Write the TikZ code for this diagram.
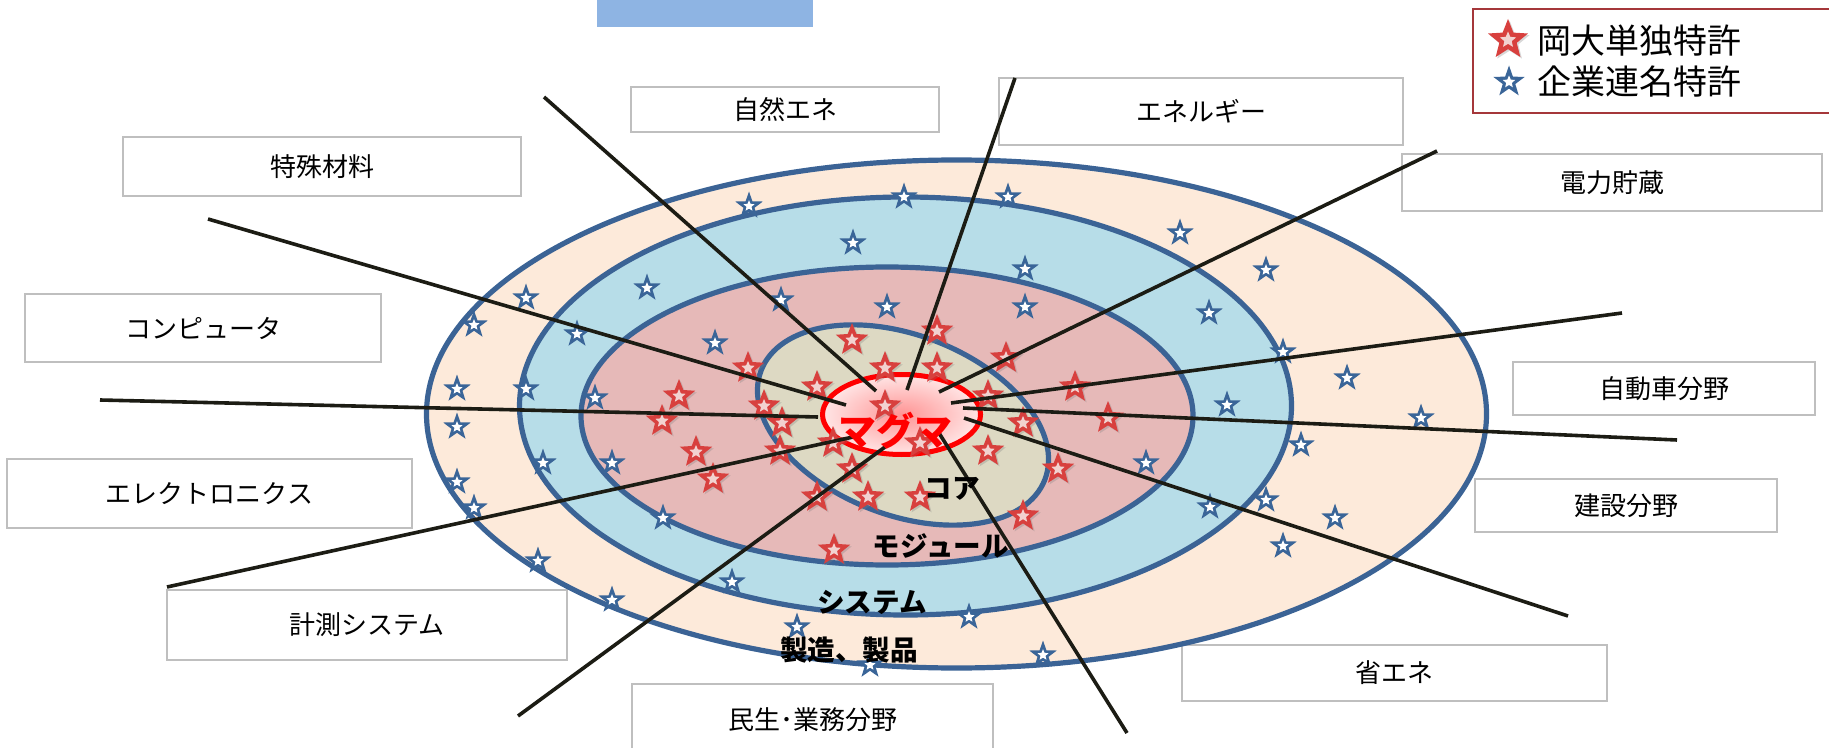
\documentclass[tikz,border=0pt]{standalone}
\usepackage{fontspec}
\newfontfamily\jp{Noto Sans CJK JP}
\usetikzlibrary{shapes.geometric,shadows}
\definecolor{ringline}{HTML}{3B6395}
\definecolor{peach}{HTML}{FDEADA}
\definecolor{bandblue}{HTML}{B7DDE8}
\definecolor{bandpink}{HTML}{E6B9B8}
\definecolor{coretan}{HTML}{DDD9C3}
\definecolor{magred}{HTML}{FF0000}
\definecolor{starblue}{HTML}{3A6598}
\definecolor{starred}{HTML}{D8403E}
\definecolor{starpink}{HTML}{F2D2D0}
\definecolor{boxgray}{HTML}{BFBFBF}
\definecolor{legred}{HTML}{A5373A}
\definecolor{barblue}{HTML}{8EB4E3}
\definecolor{spoke}{HTML}{1C1C14}
\tikzset{
  ring/.style={draw=ringline, line width=2.6pt},
  bstar/.style={star, star points=5, star point ratio=2.5, fill=starblue, draw=none, inner sep=0pt, minimum size=14.5pt},
  bstarin/.style={star, star points=5, star point ratio=2.2, fill=white, draw=none, inner sep=0pt, minimum size=5.8pt},
  rstar/.style={star, star points=5, star point ratio=2.3, fill=starred, draw=none, inner sep=0pt, minimum size=17pt,
    drop shadow={opacity=0.3, shadow xshift=0.8pt, shadow yshift=-0.8pt}},
  rstarin/.style={star, star points=5, star point ratio=2.2, fill=starpink, draw=none, inner sep=0pt, minimum size=7pt},
  fieldbox/.style={draw=boxgray, line width=1.3pt, fill=white, inner sep=0pt, font=\jp\fontsize{13pt}{15pt}\selectfont},
  ringlab/.style={inner sep=0pt, font=\jp\bfseries\fontsize{13.8pt}{16pt}\selectfont},
  spokeline/.style={draw=spoke, line width=1.8pt},
}
\begin{document}
\begin{tikzpicture}[x=0.5pt, y=-0.5pt]
\useasboundingbox (0,0) rectangle (1829,748);
% top bar
\fill[barblue] (597,0) rectangle (813,27);
% boxes
\node[fieldbox, minimum width=154pt, minimum height=22.5pt] (b1) at (785,109.5) {自然エネ};
\node[fieldbox, minimum width=202pt, minimum height=33.5pt] (b2) at (1201,111.5) {エネルギー};
\node[fieldbox, minimum width=199pt, minimum height=29.5pt] (b3) at (322,166.5) {特殊材料};
\node[fieldbox, minimum width=210pt, minimum height=28.5pt] (b4) at (1612,182.5) {電力貯蔵};
\node[fieldbox, minimum width=178pt, minimum height=34pt] (b5) at (203,328) {コンピュータ};
\node[fieldbox, minimum width=151pt, minimum height=26.5pt] (b6) at (1664,388.5) {自動車分野};
\node[fieldbox, minimum width=202.5pt, minimum height=34.5pt] (b7) at (209.5,493.5) {エレクトロニクス};
\node[fieldbox, minimum width=151pt, minimum height=26.5pt] (b8) at (1626,505.5) {建設分野};
\node[fieldbox, minimum width=200pt, minimum height=35pt] (b9) at (367,625) {計測システム};
\node[fieldbox, minimum width=212.5pt, minimum height=28pt] (b10) at (1394.5,673) {省エネ};
\node[fieldbox, minimum width=180.5pt, minimum height=36pt] (b11) at (812.5,720) {民生･業務分野};
% legend
\node[draw=legred, line width=1.3pt, fill=white, minimum width=183.5pt, minimum height=52pt, inner sep=0pt] (legend) at (1656.5,61) {};
\node[rstar, minimum size=21pt] (lr) at (1508,40) {};
\node[rstarin, minimum size=8.5pt] (lri) at (1508,40) {};
\node[bstar, minimum size=16.5pt] (lb) at (1509,82) {};
\node[bstarin, minimum size=6.5pt] (lbi) at (1509,82) {};
\node[anchor=west, inner sep=0pt, font=\jp\fontsize{17pt}{20pt}\selectfont] (lt1) at (1537,41) {岡大単独特許};
\node[anchor=west, inner sep=0pt, font=\jp\fontsize{17pt}{20pt}\selectfont] (lt2) at (1537,82) {企業連名特許};
% rings
\draw[ring, fill=peach] (956.5,414) ellipse [x radius=265pt, y radius=127pt];
\draw[ring, fill=bandblue] (905.5,406) ellipse [x radius=193pt, y radius=104.5pt];
\draw[ring, fill=bandpink] (887,416) ellipse [x radius=153pt, y radius=74.5pt];
\draw[ring, fill=coretan, rotate around={-21:(903,425)}] (903,425) ellipse [x radius=76pt, y radius=45pt];
\draw[draw=magred, line width=2.5pt, inner color=red!42, outer color=red!10] (901.5,414.5) ellipse [x radius=39.5pt, y radius=20pt];
% blue stars
\foreach \x/\y [count=\i] in {749/206, 904/197, 1008/197, 1180/233, 1266/270, 853/243, 647/288, 526/298, 474/325, 577/334, 715/343, 781/300, 887/307, 1025/269, 1025/307, 1209/313, 1283/352, 1347/378, 1227/405, 1421/418, 457/389, 526/389, 595/398, 457/427, 543/463, 612/463, 457/482, 474/508, 663/518, 538/561, 612/600, 732/582, 797/627, 969/617, 1043/655, 870/665, 1301/445, 1146/463, 1210/507, 1266/500, 1335/518, 1283/546}{
  \node[bstar] (bs\i) at (\x,\y) {};
  \node[bstarin] (bsi\i) at (\x,\y) {};
}
% red stars
\foreach \x/\y [count=\i] in {852/340, 937/331, 748/368, 817/387, 885/368, 937/368, 1006/358, 679/396, 764/406, 782/423, 885/406, 988/396, 1075/387, 1108/418, 1023/423, 662/421, 696/452, 713/479, 780/451, 833/443, 920/443, 988/451, 852/469, 1058/469, 817/497, 868/497, 920/497, 1023/516, 834/550}{
  \node[rstar] (rs\i) at (\x,\y) {};
  \node[rstarin] (rsi\i) at (\x,\y) {};
}
% spoke ends
\coordinate (o1) at (544,97);    \coordinate (i1) at (876,391);
\coordinate (o2) at (208,219);   \coordinate (i2) at (846,405);
\coordinate (o3) at (100,400);   \coordinate (i3) at (818,417);
\coordinate (o4) at (167,587);   \coordinate (i4) at (853,437);
\coordinate (o5) at (518,716);   \coordinate (i5) at (885,447);
\coordinate (o6) at (1127,733);  \coordinate (i6) at (939,433);
\coordinate (o7) at (1568,616);  \coordinate (i7) at (964,418);
\coordinate (o8) at (1677,440);  \coordinate (i8) at (963,408);
\coordinate (o9) at (1622,313);  \coordinate (i9) at (951,403);
\coordinate (o10) at (1437,151); \coordinate (i10) at (939,392);
\coordinate (o11) at (1015,78);  \coordinate (i11) at (907,390);
\foreach \k in {1,...,11}{ \draw[spokeline] (o\k) -- (i\k); }
% ring labels
\node[ringlab, text=magred, font=\jp\bfseries\fontsize{19pt}{21pt}\selectfont] (tmag) at (895,431) {マグマ};
\node[ringlab] (tcore) at (952,489) {コア};
\node[ringlab] (tmod) at (941,546) {モジュール};
\node[ringlab] (tsys) at (872,602) {システム};
\node[ringlab] (tprod) at (849,650) {製造、製品};
\end{tikzpicture}
\end{document}
